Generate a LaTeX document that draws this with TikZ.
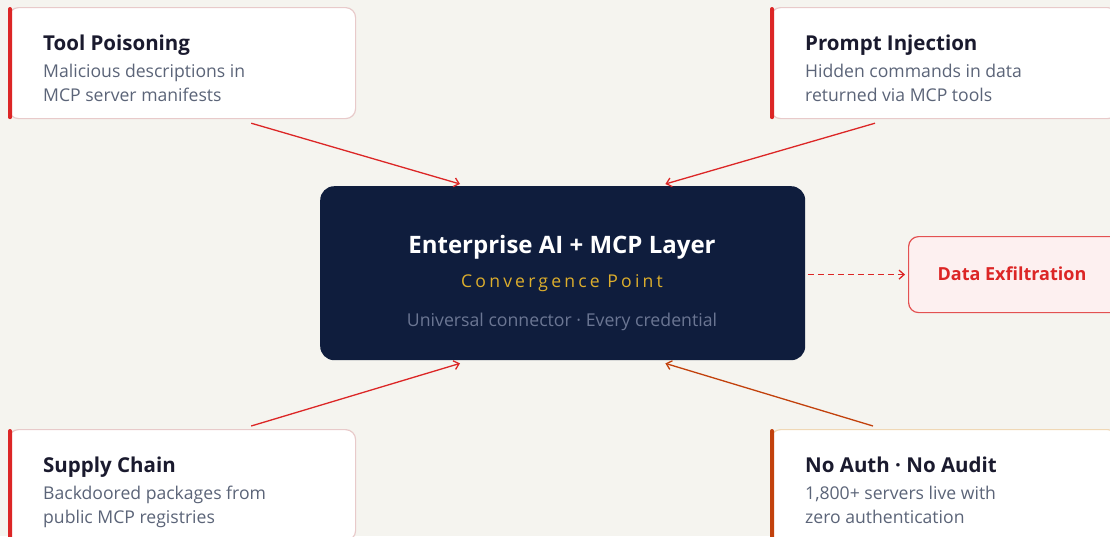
\documentclass[tikz,border=0pt]{standalone}
\usepackage{fontspec}
\setmainfont{Open Sans}
\usetikzlibrary{arrows.meta}

\definecolor{paper}{HTML}{F5F4EF}
\definecolor{navy}{HTML}{0F1D3D}
\definecolor{alarm}{HTML}{DC2626}
\definecolor{rust}{HTML}{C2410C}
\definecolor{ink}{HTML}{1A1A2E}
\definecolor{slate}{HTML}{5B6478}
\definecolor{mist}{HTML}{6B7693}
\definecolor{gold}{HTML}{DDAE2C}
\definecolor{pinkline}{HTML}{E8CACA}
\definecolor{sandline}{HTML}{F0D8B6}
\definecolor{blush}{HTML}{FDF0F0}

\tikzset{
  card/.style={draw=#1, line width=1.2pt, fill=white, rounded corners=10pt,
    minimum width=347pt, minimum height=111pt, anchor=north west, inner sep=0pt},
  cardtitle/.style={anchor=base west, inner sep=0pt, text=ink,
    font=\fontsize{20.5}{24}\selectfont\bfseries},
  carddesc/.style={anchor=base west, inner sep=0pt, text=slate, align=left,
    font=\fontsize{17.6}{24}\selectfont},
  threat/.style={draw=#1, line width=1.3pt, -{Straight Barb[length=5pt,width=9pt]}},
}

\begin{document}
\begin{tikzpicture}[x=1pt,y=-1pt]
		\fill[paper] (0,0) rectangle (1110,536);
		\useasboundingbox (0,0) rectangle (1110,536);

		% the four threat cards
		\node[card=pinkline] (tp) at (8,7) {};
		\node[card=pinkline] (pi) at (770,7) {};
		\node[card=pinkline] (sc) at (8,429) {};
		\node[card=sandline] (na) at (770,429) {};
		\fill[alarm, rounded corners=2pt] (tp.north west) rectangle ([xshift=4pt]tp.south west);
		\fill[alarm, rounded corners=2pt] (pi.north west) rectangle ([xshift=4pt]pi.south west);
		\fill[alarm, rounded corners=2pt] (sc.north west) rectangle ([xshift=4pt]sc.south west);
		\fill[rust, rounded corners=2pt] (na.north west) rectangle ([xshift=4pt]na.south west);

		\node[cardtitle] (tpT) at (43,50) {Tool Poisoning};
		\node[carddesc] (tpD) at (43,101) {Malicious descriptions in\\MCP server manifests};
		\node[cardtitle] (piT) at (805,50) {Prompt Injection};
		\node[carddesc] (piD) at (805,101) {Hidden commands in data\\returned via MCP tools};
		\node[cardtitle] (scT) at (43,472) {Supply Chain};
		\node[carddesc] (scD) at (43,523) {Backdoored packages from\\public MCP registries};
		\node[cardtitle] (naT) at (805,472) {No Auth · No Audit};
		\node[carddesc] (naD) at (805,523) {1,800+ servers live with\\zero authentication};

		% convergence point
		\node[fill=navy, rounded corners=14pt, minimum width=485pt, minimum height=174pt,
			anchor=north west, inner sep=0pt] (core) at (320,186) {};
		\node[anchor=base, inner sep=0pt, text=white, font=\fontsize{24}{28}\selectfont\bfseries]
			(coreT) at (562,253) {Enterprise AI + MCP Layer};
		\node[anchor=base, inner sep=0pt, text=gold, font=\fontsize{17.6}{20}\selectfont\addfontfeature{LetterSpace=18}]
			(coreS) at (562,287) {Convergence Point};
		\node[anchor=base, inner sep=0pt, text=mist, font=\fontsize{17.7}{20}\selectfont]
			(coreN) at (562,326) {Universal connector · Every credential};

		\node[draw=alarm!80, line width=1.2pt, fill=blush, rounded corners=10pt,
			minimum width=215pt, minimum height=76pt, anchor=north west, inner sep=0pt] (exf) at (908,236) {};
		\node[anchor=base, inner sep=0pt, text=alarm, font=\fontsize{18}{22}\selectfont\bfseries]
			(exfT) at (1012,280) {Data Exfiltration};

		\draw[threat=alarm] ([xshift=-105pt,yshift=-4pt]tp.south east) -- ([xshift=140pt,yshift=2pt]core.north west);
		\draw[threat=alarm] ([xshift=105pt,yshift=-4pt]pi.south west) -- ([xshift=-140pt,yshift=2pt]core.north east);
		\draw[threat=alarm] ([xshift=-105pt,yshift=3pt]sc.north east) -- ([xshift=140pt,yshift=-3pt]core.south west);
		\draw[threat=rust] ([xshift=103pt,yshift=3pt]na.north west) -- ([xshift=-140pt,yshift=-3pt]core.south east);
		\draw[threat=alarm, dashed, dash pattern=on 6pt off 4pt] ([xshift=3pt]core.east |- exf.west) -- ([xshift=-3pt]exf.west);
	\end{tikzpicture}
\end{document}
